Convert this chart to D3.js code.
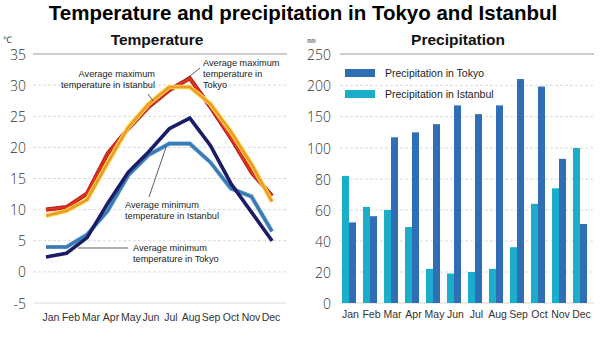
<!DOCTYPE html>
<html>
<head>
<meta charset="utf-8">
<script src="https://cdn.jsdelivr.net/npm/d3@7"></script>
<style>
  html, body { margin: 0; padding: 0; background: #fff; }
  svg { display: block; }
  text { font-family: "Liberation Sans", Arial, sans-serif; }
</style>
</head>
<body>
<svg id="chart" width="600" height="338"></svg>
<script>
// Monthly climate normals, Tokyo and Istanbul
const months = ["Jan", "Feb", "Mar", "Apr", "May", "Jun", "Jul", "Aug", "Sep", "Oct", "Nov", "Dec"];

// Temperature (°C)
const tokyoMax    = [10.0, 10.4, 12.6, 19.0, 23.0, 26.5, 29.2, 31.1, 26.5, 21.5, 16.0, 12.2];
const istanbulMax = [9.0, 9.8, 11.6, 17.5, 23.2, 27.0, 29.7, 29.7, 27.0, 22.5, 17.3, 11.3];
const tokyoMin    = [2.4, 3.0, 5.5, 11.0, 16.0, 19.3, 23.0, 24.7, 20.3, 14.2, 9.6, 5.0];
const istanbulMin = [4.0, 4.0, 6.0, 9.8, 15.5, 18.8, 20.6, 20.6, 17.6, 13.4, 12.1, 6.5];

// Precipitation (mm)
const tokyoPrecip    = [52, 56, 117, 125, 138, 168, 154, 168, 210, 198, 93, 51];
const istanbulPrecip = [82, 62, 60, 49, 22, 19, 20, 22, 36, 64, 74, 100];

// Axis ticks
const tempTicks   = [-5, 0, 5, 10, 15, 20, 25, 30, 35];
const precipTicks = [0, 20, 40, 60, 80, 100, 150, 200, 250];

const svg = d3.select("#chart");

// ---- titles ----
svg.append("text").attr("x", 303).attr("y", 20).attr("text-anchor", "middle")
  .style("font-size", "20.5px").style("font-weight", "bold").attr("fill", "#000")
  .text("Temperature and precipitation in Tokyo and Istanbul");
svg.append("text").attr("x", 157).attr("y", 45).attr("text-anchor", "middle")
  .style("font-size", "15.5px").style("font-weight", "bold").attr("fill", "#111")
  .text("Temperature");
svg.append("text").attr("x", 458).attr("y", 45).attr("text-anchor", "middle")
  .style("font-size", "15.5px").style("font-weight", "bold").attr("fill", "#111")
  .text("Precipitation");

const tickFont = '"Open Sans", "Noto Sans", sans-serif';

// ================= Temperature panel =================
const tL = 33, tR = 287;
const yT = d3.scaleLinear().domain([-5, 35]).range([303, 54]);
const xT = d3.scalePoint().domain(months).range([46, 272]);
const xTLabel = d3.scalePoint().domain(months).range([51, 271]);

const gT = svg.append("g");
svg.append("text").attr("x", 3).attr("y", 43).style("font-size", "9px").attr("fill", "#444").text("℃");

gT.selectAll("line.grid").data(tempTicks).join("line")
  .attr("class", "grid")
  .attr("x1", tL).attr("x2", tR)
  .attr("y1", d => yT(d)).attr("y2", d => yT(d))
  .attr("stroke", d => d === 35 ? "#9a9a9a" : "#d6d6d6")
  .attr("stroke-width", d => d === 35 ? 1 : 0.9)
  .attr("stroke-dasharray", d => (d === 35 || d === -5) ? null : "3,2");

gT.selectAll("text.ytick").data(tempTicks).join("text")
  .attr("class", "ytick")
  .attr("x", 26).attr("y", d => yT(d)).attr("dy", "0.4em")
  .attr("text-anchor", "end")
  .style("font-family", tickFont).style("font-size", "14px").style("font-weight", 300)
  .attr("fill", "#333")
  .text(d => d);

gT.selectAll("text.xtick").data(months).join("text")
  .attr("class", "xtick")
  .attr("x", d => xTLabel(d)).attr("y", 321)
  .attr("text-anchor", "middle")
  .style("font-size", "10.5px").attr("fill", "#333")
  .text(d => d);

const line = d3.line().x((d, i) => xT(months[i])).y(d => yT(d));

function drawSeries(values, outer, outerW, inner, innerW) {
  gT.append("path").datum(values).attr("d", line).attr("fill", "none")
    .attr("stroke", outer).attr("stroke-width", outerW)
    .attr("stroke-linejoin", "miter").attr("stroke-linecap", "butt");
  gT.append("path").datum(values).attr("d", line).attr("fill", "none")
    .attr("stroke", inner).attr("stroke-width", innerW)
    .attr("stroke-linejoin", "miter").attr("stroke-linecap", "butt");
}

drawSeries(istanbulMin, "#5d9bd0", 4.2, "#3a7ab3", 2.6);
drawSeries(tokyoMin, "#232470", 3.6, "#1b1c66", 2.4);
drawSeries(tokyoMax, "#b3201a", 4.2, "#e0321f", 2.2);
drawSeries(istanbulMax, "#ffd95a", 4.6, "#ec9c22", 2.6);

// annotations
const ann = gT.append("g").style("font-size", "9.2px").attr("fill", "#222");
function label(x, y, lines, anchor) {
  const t = ann.append("text").attr("x", x).attr("y", y).attr("text-anchor", anchor);
  lines.forEach((s, i) => t.append("tspan").attr("x", x).attr("dy", i ? 11 : 0).text(s));
}
const leader = (x1, y1, x2, y2) => ann.append("line")
  .attr("x1", x1).attr("y1", y1).attr("x2", x2).attr("y2", y2)
  .attr("stroke", "#333").attr("stroke-width", 0.8);

label(155, 77, ["Average maximum", "temperature in Istanbul"], "end");
leader(148, 94, 153, 101);

label(203, 66, ["Average maximum", "temperature in", "Tokyo"], "start");
leader(200, 68, xT("Aug") - 4, yT(31.1) + 1);

label(125, 208, ["Average minimum", "temperature in Istanbul"], "start");
leader(xT("Jul") - 3, yT(20.6) + 3, 149, 197);

label(133, 251, ["Average minimum", "temperature in Tokyo"], "start");
leader(78, 248, 128, 248);

// ================= Precipitation panel =================
const pL = 340, pR = 594;
const yP = d3.scaleLinear().domain([0, 100, 250]).range([303, 148, 54]);
const xP = d3.scaleBand().domain(months).range([338.5, 590.5])
  .paddingInner(1 / 3).paddingOuter(1 / 6);
const series = ["Istanbul", "Tokyo"];
const xSub = d3.scaleBand().domain(series).range([0, xP.bandwidth()]);
const colors = { Tokyo: "#2f6db5", Istanbul: "#1aaecb" };

const gP = svg.append("g");
svg.append("text").attr("x", 307).attr("y", 43).style("font-size", "9px").attr("fill", "#444").text("㎜");

gP.selectAll("line.grid").data(precipTicks).join("line")
  .attr("class", "grid")
  .attr("x1", pL).attr("x2", pR)
  .attr("y1", d => yP(d)).attr("y2", d => yP(d))
  .attr("stroke", d => d === 250 ? "#9a9a9a" : "#d6d6d6")
  .attr("stroke-width", d => d === 250 ? 1 : 0.9)
  .attr("stroke-dasharray", d => (d === 250 || d === 0) ? null : "3,2");

gP.selectAll("text.ytick").data(precipTicks).join("text")
  .attr("class", "ytick")
  .attr("x", 331).attr("y", d => yP(d)).attr("dy", "0.4em")
  .attr("text-anchor", "end")
  .style("font-family", tickFont).style("font-size", "14px").style("font-weight", 300)
  .attr("fill", "#333")
  .text(d => d);

const barData = months.map((m, i) => ({ m, Istanbul: istanbulPrecip[i], Tokyo: tokyoPrecip[i] }));
const groups = gP.selectAll("g.month").data(barData).join("g")
  .attr("class", "month")
  .attr("transform", d => `translate(${xP(d.m)},0)`);
groups.selectAll("rect").data(d => series.map(s => ({ s, v: d[s] }))).join("rect")
  .attr("x", d => xSub(d.s)).attr("width", xSub.bandwidth())
  .attr("y", d => yP(d.v)).attr("height", d => yP(0) - yP(d.v))
  .attr("fill", d => colors[d.s]);

gP.selectAll("text.xtick").data(months).join("text")
  .attr("class", "xtick")
  .attr("x", d => xP(d) + xP.bandwidth() / 2 + 1.5).attr("y", 318)
  .attr("text-anchor", "middle")
  .style("font-size", "10.5px").attr("fill", "#333")
  .text(d => d);

// legend
const legendItems = [
  { s: "Tokyo", label: "Precipitation in Tokyo" },
  { s: "Istanbul", label: "Precipitation in Istanbul" }
];
const lg = gP.selectAll("g.legend").data(legendItems).join("g")
  .attr("class", "legend")
  .attr("transform", (d, i) => `translate(345,${69 + i * 21})`);
lg.append("rect").attr("width", 30).attr("height", 8).attr("fill", d => colors[d.s]);
lg.append("text").attr("x", 40).attr("y", 4).attr("dy", "0.36em")
  .style("font-size", "10.5px").attr("fill", "#222").text(d => d.label);
</script>
</body>
</html>
